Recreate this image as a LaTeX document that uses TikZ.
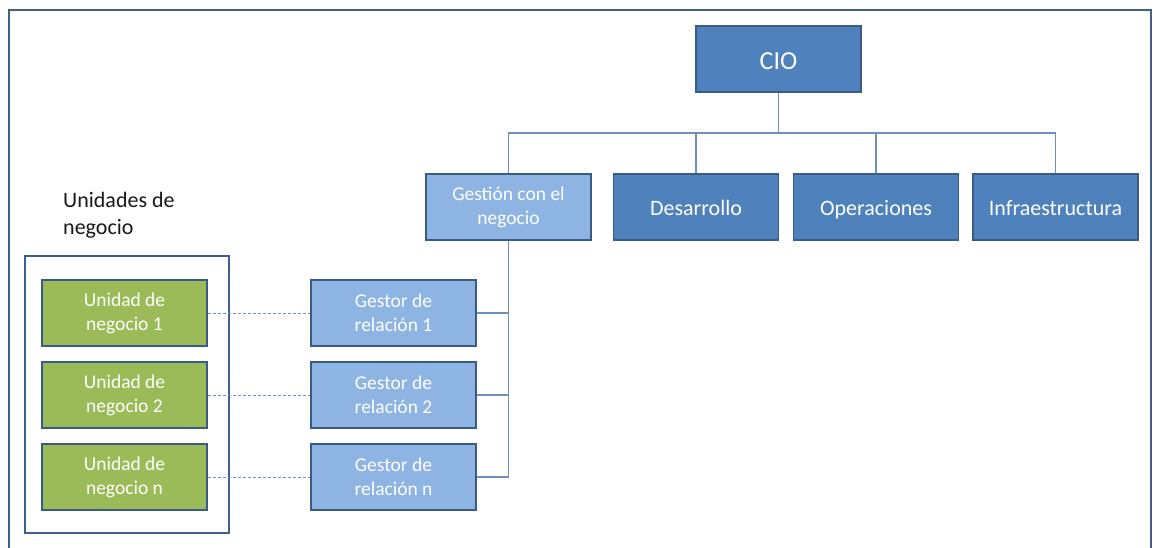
\documentclass[tikz,border=0pt]{standalone}
\usepackage{fontspec}
\setmainfont{Carlito}
\definecolor{darkbox}{HTML}{4F81BD}
\definecolor{lightbox}{HTML}{8EB4E3}
\definecolor{greenbox}{HTML}{9BBB59}
\definecolor{edge}{HTML}{3A5B86}
\definecolor{wire}{HTML}{6E8FBB}
\definecolor{frame}{HTML}{3F5F8C}
\begin{document}
\begin{tikzpicture}[x=1pt,y=-1pt,
  box/.style={draw=edge,line width=1.8pt,minimum width=165pt,minimum height=66pt,
    text=white,align=center,inner sep=2pt},
  bigbox/.style={box,fill=darkbox,font=\fontsize{22}{26}\selectfont,
    text height=19pt,text depth=3pt},
  topbox/.style={box,fill=darkbox,font=\fontsize{26}{30}\selectfont,
    text height=22pt,text depth=2pt},
  relbox/.style={box,fill=lightbox,font=\fontsize{19.5}{24}\selectfont},
  unitbox/.style={box,fill=greenbox,font=\fontsize{19.5}{24}\selectfont},
  conn/.style={draw=wire,line width=1.2pt},
  dotted link/.style={draw=wire,line width=0.9pt,dash pattern=on 3pt off 2pt}]
\useasboundingbox (0,0) rectangle (1158,547);
\fill[white] (0,0) rectangle (1158,547);

% outer frame, open at the bottom
\draw[frame,line width=2pt] (9,548) -- (9,10) -- (1151,10) -- (1151,548);

% top of the hierarchy
\node[topbox] (cio) at (778.5,59) {CIO};
\node[relbox] (ges) at (508.5,207) {Gestión con el\\negocio};
\node[bigbox] (des) at (696,207) {Desarrollo};
\node[bigbox] (ope) at (876,207) {Operaciones};
\node[bigbox] (inf) at (1055.5,207) {Infraestructura};

\coordinate (bus) at (778.5,133);
\draw[conn] (cio.south) -- (bus);
\draw[conn] (bus) -| (ges.north);
\draw[conn] (bus) -| (des.north);
\draw[conn] (bus) -| (ope.north);
\draw[conn] (bus) -| (inf.north);

% relationship managers
\node[relbox] (g1) at (393.5,313) {Gestor de\\relación 1};
\node[relbox] (g2) at (393.5,395) {Gestor de\\relación 2};
\node[relbox] (g3) at (393.5,477) {Gestor de\\relación n};

\draw[conn] (ges.south) |- (g3.east);
\draw[conn] (g1.east) -- (g1.east -| ges.south);
\draw[conn] (g2.east) -- (g2.east -| ges.south);

% business units
\node[draw=frame,line width=2pt,minimum width=204pt,minimum height=277pt] (units) at (127,394.5) {};
\node[anchor=north west,align=left,inner sep=0pt,text=black!90,
  font=\fontsize{22}{27}\selectfont] (unitstitle) at (63,192) {Unidades de\\negocio};

\node[unitbox] (u1) at (124.5,313) {Unidad de\\negocio 1};
\node[unitbox] (u2) at (124.5,395) {Unidad de\\negocio 2};
\node[unitbox] (u3) at (124.5,477) {Unidad de\\negocio n};

\draw[dotted link] (u1.east) -- (g1.west);
\draw[dotted link] (u2.east) -- (g2.west);
\draw[dotted link] (u3.east) -- (g3.west);
\end{tikzpicture}
\end{document}
